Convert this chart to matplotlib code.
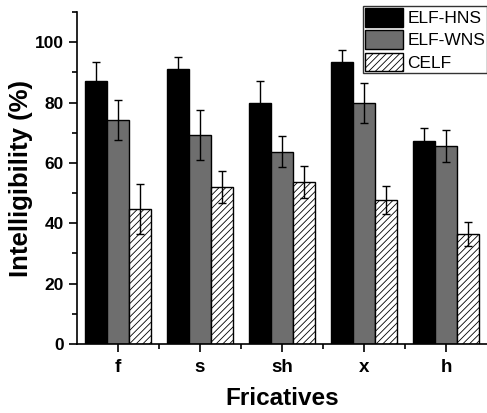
import numpy as np
import matplotlib
matplotlib.use("Agg")
import matplotlib.pyplot as plt
from matplotlib.ticker import MultipleLocator, FixedLocator

plt.rcParams["font.family"] = ["Liberation Sans", "DejaVu Sans"]
plt.rcParams["hatch.linewidth"] = 0.6

fricatives = ["f", "s", "sh", "x", "h"]
series = ["ELF-HNS", "ELF-WNS", "CELF"]
hns = [87.2, 91.0, 79.9, 93.4, 67.1]
hns_err = [6.2, 4.0, 7.1, 3.9, 4.6]
wns = [74.3, 69.3, 63.7, 79.9, 65.7]
wns_err = [6.7, 8.3, 5.2, 6.6, 5.3]
celf = [44.8, 52.1, 53.7, 47.7, 36.4]
celf_err = [8.2, 5.3, 5.3, 4.6, 4.0]

fig = plt.figure(figsize=(4.87, 4.13), dpi=100)
ax = fig.add_axes([0.158, 0.167, 0.842, 0.804])

x = np.arange(1, len(fricatives) + 1)
w = 0.27
styles = [
    dict(color="black", hatch=None),
    dict(color="#6e6e6e", hatch=None),
    dict(color="white", hatch="/////"),
]
vals = [hns, wns, celf]
errs = [hns_err, wns_err, celf_err]
handles = []
for i, (v, e, st) in enumerate(zip(vals, errs, styles)):
    b = ax.bar(x + (i - 1) * w, v, w, color=st["color"], hatch=st["hatch"],
               edgecolor="black", linewidth=1.0, label=series[i], zorder=2)
    ax.errorbar(x + (i - 1) * w, v, yerr=e, fmt="none", ecolor="black",
                elinewidth=1.0, capsize=3, capthick=1.0, zorder=3)
    handles.append(b)

ax.set_xlim(0.5, 5.5)
ax.set_ylim(0, 110)
ax.set_xticks(x)
ax.set_xticklabels(fricatives, fontweight="bold", fontsize=13.5)
ax.xaxis.set_minor_locator(FixedLocator([1.5, 2.5, 3.5, 4.5]))
ax.yaxis.set_major_locator(FixedLocator([0, 20, 40, 60, 80, 100]))
ax.yaxis.set_minor_locator(MultipleLocator(10))
for lab in ax.get_yticklabels():
    lab.set_fontweight("bold")
    lab.set_fontsize(12.5)
ax.tick_params(which="major", length=6, width=1.2, direction="out")
ax.tick_params(which="minor", length=3.5, width=1.2, direction="out")
ax.tick_params(axis="x", pad=5)
for s in ["top", "right"]:
    ax.spines[s].set_visible(False)
for s in ["left", "bottom"]:
    ax.spines[s].set_linewidth(1.2)

ax.set_ylabel("Intelligibility (%)", fontsize=18.5, fontweight="bold", labelpad=1)
ax.set_xlabel("Fricatives", fontsize=17.5, fontweight="bold", labelpad=8)

leg = ax.legend(handles=handles, loc="upper left",
                bbox_to_anchor=(363 / 487, 1 - 6 / 413), bbox_transform=fig.transFigure,
                fontsize=12.5, frameon=True, fancybox=False, handlelength=2.2,
                handleheight=1.3, handletextpad=0.25, labelspacing=0.2,
                borderpad=0.1, borderaxespad=0)
leg.get_frame().set_edgecolor("black")
leg.get_frame().set_linewidth(1.0)

fig.savefig("out.png", dpi=100)
